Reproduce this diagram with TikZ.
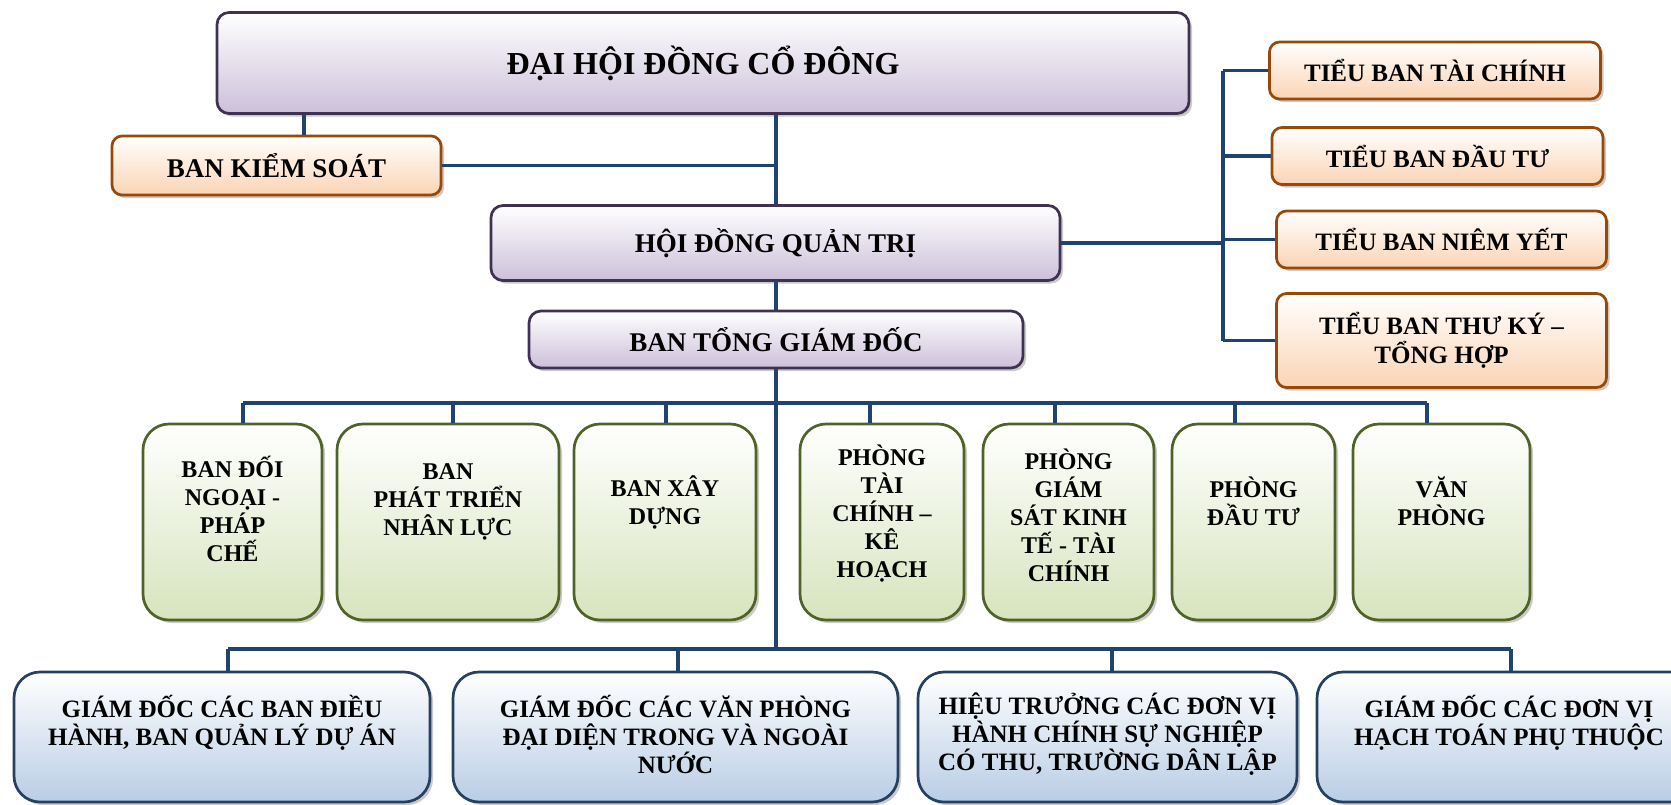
\documentclass[tikz,border=0pt]{standalone}
\usepackage{fontspec}
\setmainfont{Liberation Serif}
\usetikzlibrary{shadows}
\definecolor{pborder}{HTML}{3F3151}
\definecolor{pfill}{HTML}{CCC0DA}
\definecolor{oborder}{HTML}{984807}
\definecolor{ofill}{HTML}{FBD4B4}
\definecolor{gborder}{HTML}{4F6228}
\definecolor{gfill}{HTML}{D7E4BD}
\definecolor{bborder}{HTML}{254061}
\definecolor{bfill}{HTML}{B9CDE5}
\definecolor{conn}{HTML}{21446F}
\tikzset{
  boxbase/.style={draw, line width=2.7pt, align=center, inner sep=0pt,
    font=\bfseries, drop shadow={shadow xshift=3pt, shadow yshift=-3pt, fill=black!35, opacity=0.6}},
  pbox/.style={boxbase, draw=pborder, top color=white, bottom color=pfill, rounded corners=12pt},
  obox/.style={boxbase, draw=oborder, top color=white, bottom color=ofill, rounded corners=10pt},
  gbox/.style={boxbase, draw=gborder, top color=white, bottom color=gfill, rounded corners=26pt},
  bbox/.style={boxbase, draw=bborder, top color=white, bottom color=bfill, rounded corners=26pt},
  gtxt/.style={align=center, inner sep=0pt, font=\fontsize{24}{28}\selectfont\bfseries},
  btxt/.style={align=center, inner sep=0pt, anchor=north, font=\fontsize{25}{28}\selectfont\bfseries},
  link/.style={draw=conn, line width=3.5pt},
}
\begin{document}
\begin{tikzpicture}[x=1pt,y=-1pt]
\useasboundingbox (0,0) rectangle (1671,804);
\clip (0,0) rectangle (1671,804);

% coordinates for off-centre connector positions
\coordinate (mx) at (776,0);
\coordinate (kx) at (304,0);
\coordinate (rx) at (1223,0);

% top level
\node[pbox, minimum width=972pt, minimum height=101pt, font=\fontsize{32}{36}\selectfont\bfseries] (dh) at (703,63) {ĐẠI HỘI ĐỒNG CỔ ĐÔNG};
\node[obox, minimum width=329pt, minimum height=59pt, font=\fontsize{27}{30}\selectfont\bfseries] (bks) at (276.5,165.5) {BAN KIỂM SOÁT};
\node[pbox, minimum width=569pt, minimum height=75pt, font=\fontsize{27}{30}\selectfont\bfseries] (hd) at (775.5,243) {HỘI ĐỒNG QUẢN TRỊ};
\node[pbox, minimum width=494pt, minimum height=57pt, font=\fontsize{27}{30}\selectfont\bfseries] (tg) at (776,339.5) {BAN TỔNG GIÁM ĐỐC};

% sub-committees
\node[obox, minimum width=331pt, minimum height=57pt, font=\fontsize{25}{30}\selectfont\bfseries] (t1) at (1435,70.5) {TIỂU BAN TÀI CHÍNH};
\node[obox, minimum width=331pt, minimum height=57pt, font=\fontsize{25}{30}\selectfont\bfseries] (t2) at (1437.5,156) {TIỂU BAN ĐẦU TƯ};
\node[obox, minimum width=330pt, minimum height=57pt, font=\fontsize{25}{30}\selectfont\bfseries] (t3) at (1441.5,239.5) {TIỂU BAN NIÊM YẾT};
\node[obox, minimum width=330pt, minimum height=94pt, font=\fontsize{25}{29}\selectfont\bfseries] (t4) at (1441.5,340.5) {TIỂU BAN THƯ KÝ –\\TỔNG HỢP};

% departments (green)
\node[gbox, minimum width=179pt, minimum height=196pt] (g1) at (232.5,522) {};
\node[gbox, minimum width=222pt, minimum height=196pt] (g2) at (448,522) {};
\node[gbox, minimum width=182pt, minimum height=196pt] (g3) at (665,522) {};
\node[gbox, minimum width=164pt, minimum height=196pt] (g4) at (882,522) {};
\node[gbox, minimum width=171pt, minimum height=196pt] (g5) at (1068.5,522) {};
\node[gbox, minimum width=163pt, minimum height=196pt] (g6) at (1253.5,522) {};
\node[gbox, minimum width=177pt, minimum height=196pt] (g7) at (1441.5,522) {};
\node[gtxt] (g1t) at (232.5,509) {BAN ĐỐI\\NGOẠI -\\PHÁP\\CHẾ};
\node[gtxt] (g2t) at (448,502) {BAN\\PHÁT TRIỂN\\NHÂN LỰC};
\node[gtxt] (g3t) at (665,502) {BAN XÂY\\DỰNG};
\node[gtxt] (g4t) at (882,514) {PHÒNG\\TÀI\\CHÍNH –\\KÊ\\HOẠCH};
\node[gtxt] (g5t) at (1068.5,515) {PHÒNG\\GIÁM\\SÁT KINH\\TẾ - TÀI\\CHÍNH};
\node[gtxt] (g6t) at (1253.5,501) {PHÒNG\\ĐẦU TƯ};
\node[gtxt] (g7t) at (1441.5,501) {VĂN\\PHÒNG};

% units (blue)
\node[bbox, minimum width=416pt, minimum height=130pt] (b1) at (222,737) {};
\node[bbox, minimum width=445pt, minimum height=130pt] (b2) at (675.5,737) {};
\node[bbox, minimum width=379pt, minimum height=130pt] (b3) at (1107.5,737) {};
\node[bbox, minimum width=384pt, minimum height=130pt] (b4) at (1509,737) {};
\node[btxt] (b1t) at (222,695) {GIÁM ĐỐC CÁC BAN ĐIỀU\\HÀNH, BAN QUẢN LÝ DỰ ÁN};
\node[btxt] (b2t) at (675.5,695) {GIÁM ĐỐC CÁC VĂN PHÒNG\\ĐẠI DIỆN TRONG VÀ NGOÀI\\NƯỚC};
\node[btxt] (b3t) at (1107.5,693) {HIỆU TRƯỞNG CÁC ĐƠN VỊ\\HÀNH CHÍNH SỰ NGHIỆP\\CÓ THU, TRƯỜNG DÂN LẬP};
\node[btxt] (b4t) at (1509,695) {GIÁM ĐỐC CÁC ĐƠN VỊ\\HẠCH TOÁN PHỤ THUỘC};

% connectors: top
\draw[link] (dh.south -| mx) -- (hd.north -| mx);
\draw[link] (dh.south -| kx) -- (bks.north -| kx);
\draw[link] (bks.east) -- (bks.east -| mx);
\draw[link] (hd.south -| mx) -- (tg.north -| mx);

% connectors: sub-committees
\draw[link] (hd.east) -- (hd.east -| rx);
\draw[link] (t1.west -| rx) -- (t4.west -| rx);
\draw[link] (t1.west -| rx) -- (t1.west);
\draw[link] (t2.west -| rx) -- (t2.west);
\draw[link] (t3.west -| rx) -- (t3.west);
\draw[link] (t4.west -| rx) -- (t4.west);

% middle bus
\coordinate (d1) at (243,403);
\coordinate (d2) at (453,403);
\coordinate (d3) at (666,403);
\coordinate (d4) at (870,403);
\coordinate (d5) at (1055,403);
\coordinate (d6) at (1235,403);
\coordinate (d7) at (1427,403);
\draw[link] (d1) -- (d7);
\draw[link] (d1) -- (d1 |- g1.north);
\draw[link] (d2) -- (d2 |- g2.north);
\draw[link] (d3) -- (d3 |- g3.north);
\draw[link] (d4) -- (d4 |- g4.north);
\draw[link] (d5) -- (d5 |- g5.north);
\draw[link] (d6) -- (d6 |- g6.north);
\draw[link] (d7) -- (d7 |- g7.north);

% bottom bus
\coordinate (e1) at (228,649);
\coordinate (e2) at (678,649);
\coordinate (e3) at (1112,649);
\coordinate (e4) at (1511,649);
\coordinate (em) at (776,649);
\draw[link] (tg.south -| mx) -- (em);
\draw[link] (e1) -- (e4);
\draw[link] (e1) -- (e1 |- b1.north);
\draw[link] (e2) -- (e2 |- b2.north);
\draw[link] (e3) -- (e3 |- b3.north);
\draw[link] (e4) -- (e4 |- b4.north);
\end{tikzpicture}
\end{document}
